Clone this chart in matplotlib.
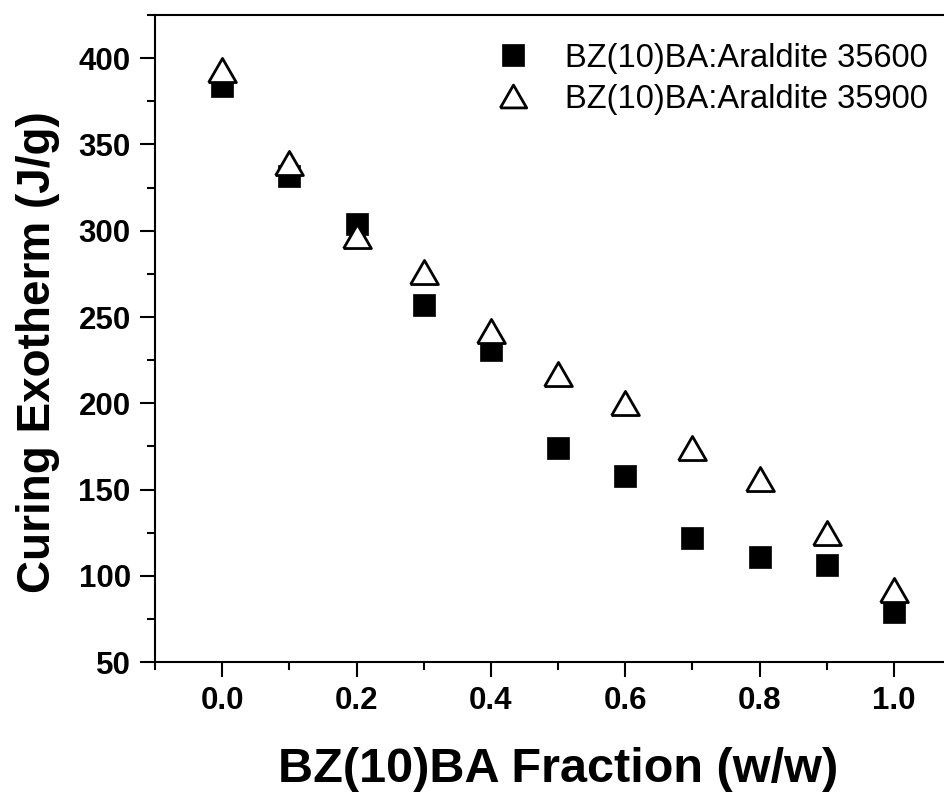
import numpy as np
import matplotlib
matplotlib.use('Agg')
import matplotlib.pyplot as plt
from matplotlib.ticker import MultipleLocator

plt.rcParams['font.family'] = ['Liberation Sans', 'DejaVu Sans']

# BZ(10)BA fraction (w/w)
frac = [0.0, 0.1, 0.2, 0.3, 0.4, 0.5, 0.6, 0.7, 0.8, 0.9, 1.0]
# curing exotherm (J/g)
exo_35600 = [384, 332, 304, 257, 231, 174, 158, 122, 111, 106, 79]
exo_35900 = [393, 339, 297, 276, 242, 217, 200, 174, 156, 125, 92]

label_35600 = 'BZ(10)BA:Araldite 35600'
label_35900 = 'BZ(10)BA:Araldite 35900'

fig = plt.figure(figsize=(9.45, 7.92), dpi=100)
ax = fig.add_axes([0.164, 0.164, 0.853, 0.817])

# equilateral triangle marker
tri = [(-1, -0.866), (1, -0.866), (0, 0.866), (-1, -0.866)]

ax.plot(frac, exo_35600, ls='none', marker='s', ms=16, mfc='black',
        mec='black', mew=0.5, label=label_35600)
ax.plot(frac, exo_35900, ls='none', marker=tri, ms=20, mfc='white',
        mec='black', mew=2, label=label_35900)

ax.set_xlim(-0.1, 1.1)
ax.set_ylim(50, 425)
ax.xaxis.set_minor_locator(MultipleLocator(0.1))
ax.yaxis.set_major_locator(MultipleLocator(50))
ax.yaxis.set_minor_locator(MultipleLocator(25))
ax.set_xticks([0.0, 0.2, 0.4, 0.6, 0.8, 1.0])
ax.set_xticklabels(['0.0', '0.2', '0.4', '0.6', '0.8', '1.0'])

ax.tick_params(which='major', direction='out', length=10.5, width=1.5,
               labelsize=22.5, pad=7)
ax.tick_params(which='minor', direction='out', length=5.5, width=1.5)
ax.tick_params(top=False, right=False, which='both')
for lab in ax.get_xticklabels() + ax.get_yticklabels():
    lab.set_fontweight('bold')
for sp in ax.spines.values():
    sp.set_linewidth(1.5)

ax.set_xlabel('BZ(10)BA Fraction (w/w)', fontsize=35, fontweight='bold', labelpad=22)
ax.set_ylabel('Curing Exotherm (J/g)', fontsize=33, fontweight='bold')
ax.yaxis.set_label_coords(-0.118, 0.479)

ax.legend(loc='upper right', bbox_to_anchor=(1.013, 0.983),
          bbox_transform=fig.transFigure, frameon=False, fontsize=23.5,
          handletextpad=1.0, labelspacing=0.3, handlelength=1.2,
          markerscale=0.95)

fig.savefig('out.png', dpi=100)
